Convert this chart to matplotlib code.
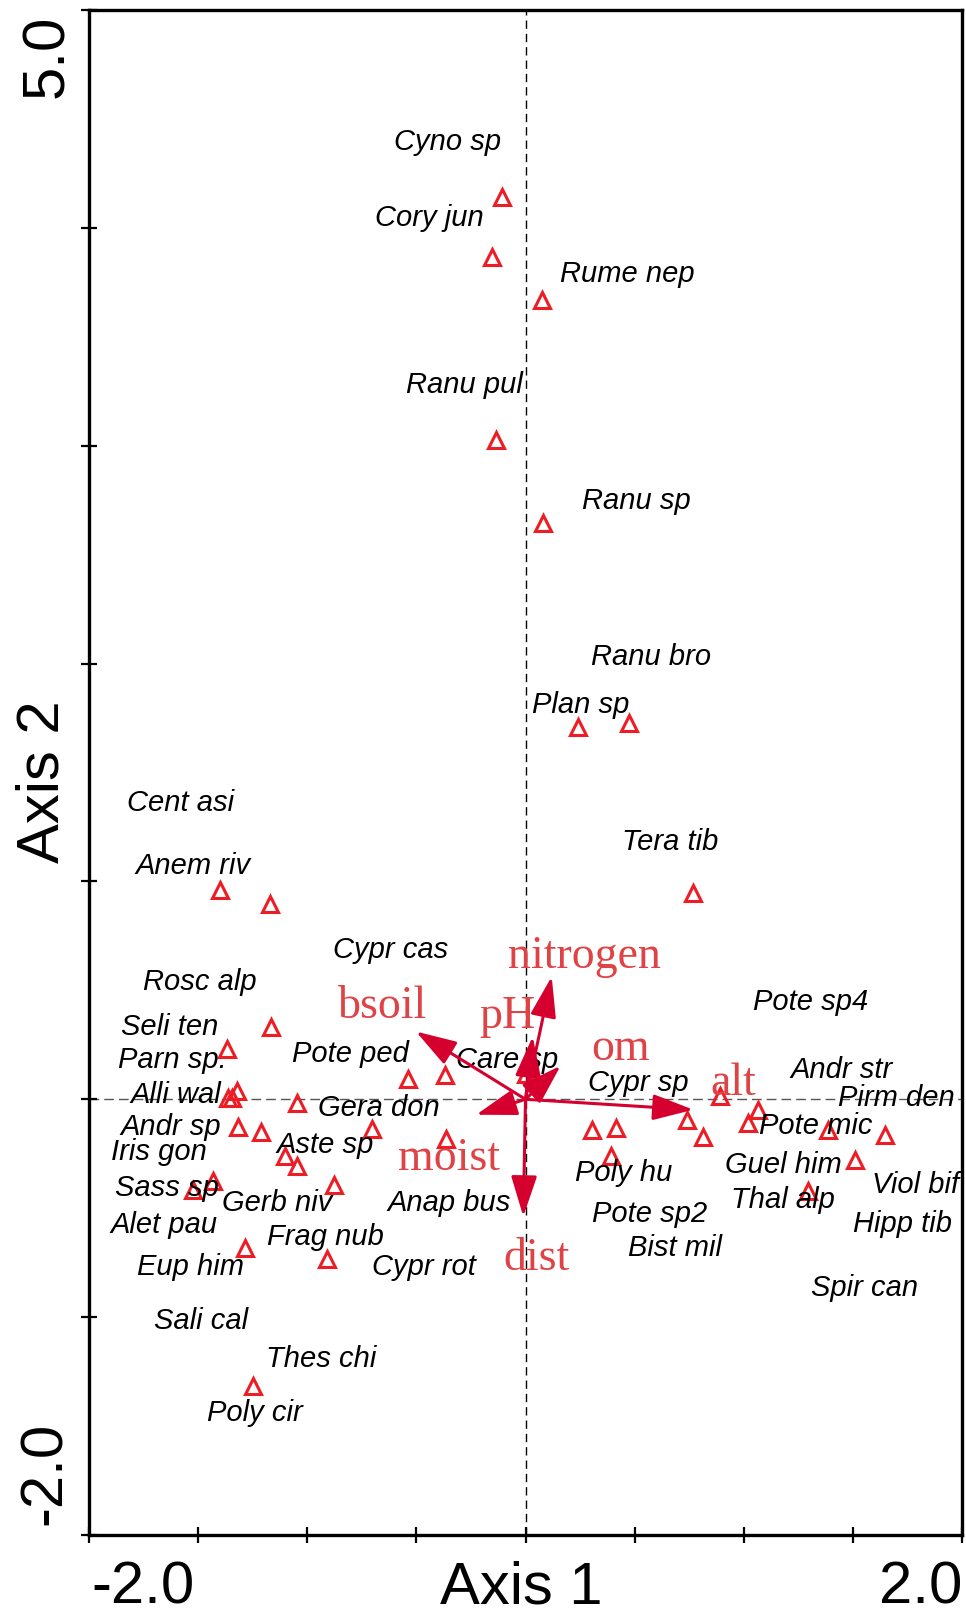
import numpy as np
import matplotlib
matplotlib.use('Agg')
import matplotlib.pyplot as plt

# Skor spesies (segitiga)
sp_x = [-0.106, -0.153, 0.074, -0.134, 0.079, 0.242, 0.476, 0.766,
        -1.400, -1.171, -1.168, -1.369, -1.323, -1.346, -1.362, -1.046,
        -0.537, -0.369, -1.319, -1.212, -0.705, -0.366, -1.102, -1.048,
        -1.430, -1.522, -0.876, -1.285, -0.911, -1.247,
        0.002, 0.044,
        0.891, 0.303, 0.413, 0.392, 0.741, 0.815, 1.064, 1.021,
        1.387, 1.647, 1.510, 1.296]
sp_y = [4.143, 3.868, 3.669, 3.027, 2.644, 1.711, 1.726, 0.946,
        0.961, 0.897, 0.334, 0.233, 0.036, 0.005, 0.004, -0.017,
        0.093, 0.112, -0.125, -0.151, -0.135, -0.181, -0.259, -0.308,
        -0.374, -0.415, -0.392, -0.683, -0.732, -1.318,
        0.115, 0.085,
        0.013, -0.140, -0.132, -0.259, -0.097, -0.171, -0.051, -0.109,
        -0.140, -0.166, -0.278, -0.423]

# Nama spesies dan posisi labelnya
sp_names = ['Cyno sp', 'Cory jun', 'Rume nep', 'Ranu pul', 'Ranu sp', 'Ranu bro',
            'Plan sp', 'Tera tib', 'Cent asi', 'Anem riv', 'Cypr cas', 'Rosc alp',
            'Seli ten', 'Parn sp.', 'Pote ped', 'Alli wal', 'Gera don', 'Andr sp',
            'Iris gon', 'Aste sp', 'Sass sp', 'Gerb niv', 'Anap bus', 'Alet pau',
            'Frag nub', 'Eup him', 'Cypr rot', 'Sali cal', 'Thes chi', 'Poly cir',
            'Pote sp4', 'Andr str', 'Cypr sp', 'Pirm den', 'Pote mic', 'Guel him',
            'Poly hu', 'Viol bif', 'Thal alp', 'Pote sp2', 'Hipp tib', 'Bist mil',
            'Spir can', 'Care sp']
lab_x = [-0.601, -0.690, 0.158, -0.548, 0.257, 0.300,
         0.028, 0.441, -1.825, -1.789, -0.881, -1.751,
         -1.853, -1.866, -1.071, -1.812, -0.949, -1.858,
         -1.901, -1.140, -1.881, -1.392, -0.631, -1.904,
         -1.186, -1.779, -0.705, -1.702, -1.190, -1.458,
         1.041, 1.215, 0.288, 1.433, 1.071, 0.914,
         0.227, 1.586, 0.942, 0.303, 1.502, 0.471,
         1.307, -0.318]
lab_y = [4.357, 4.009, 3.753, 3.244, 2.709, 1.994,
         1.772, 1.142, 1.321, 1.035, 0.648, 0.503,
         0.296, 0.143, 0.169, -0.017, -0.079, -0.163,
         -0.278, -0.247, -0.443, -0.515, -0.515, -0.614,
         -0.668, -0.805, -0.805, -1.055, -1.231, -1.479,
         0.411, 0.097, 0.039, -0.033, -0.158, -0.339,
         -0.377, -0.430, -0.499, -0.561, -0.607, -0.721,
         -0.905, 0.143]

# Vektor variabel lingkungan
env_names = ['nitrogen', 'pH', 'bsoil', 'om', 'moist', 'dist', 'alt']
env_x = [0.120, 0.033, -0.502, 0.161, -0.226, -0.010, 0.769]
env_y = [0.563, 0.288, 0.311, 0.154, -0.071, -0.538, -0.048]
env_lab_x = [-0.080, -0.213, -0.858, 0.303, -0.583, -0.102, 0.849]
env_lab_y = [0.602, 0.327, 0.373, 0.181, -0.324, -0.782, 0.021]

x_ticks = np.arange(-2.0, 2.01, 0.5)
y_ticks = np.arange(-2, 6, 1)

fig = plt.figure(figsize=(9.66, 16.16), dpi=100)
ax = fig.add_axes([89 / 966, 81 / 1616, 873 / 966, 1525 / 1616])
ax.set_xlim(-2, 2)
ax.set_ylim(-2, 5)

# garis putus-putus di sumbu nol
ax.axvline(0, color='black', lw=1, ls=(0, (6, 3.6)), zorder=1)
ax.axhline(0, color='#555555', lw=1, ls=(0, (7, 3.6)), zorder=1)

# segitiga spesies
ax.plot(sp_x, sp_y, linestyle='none', marker='^', markersize=11,
        markerfacecolor='none', markeredgecolor='#ee1c25', markeredgewidth=2.2, zorder=3)

# label spesies
for name, x, y in zip(sp_names, lab_x, lab_y):
    ax.text(x, y, name, fontsize=21, style='italic', family='Liberation Sans',
            ha='left', va='baseline', color='black', zorder=4, clip_on=True)

# panah lingkungan
for x, y in zip(env_x, env_y):
    ax.annotate('', xy=(x, y), xytext=(0, 0),
                arrowprops=dict(arrowstyle='-|>,head_length=2.5,head_width=0.8',
                                mutation_scale=10, lw=2.2, color='#d5002e',
                                shrinkA=0, shrinkB=0), zorder=5)

for name, x, y in zip(env_names, env_lab_x, env_lab_y):
    ax.text(x, y, name, fontsize=33, family='Liberation Serif', color='#e04346',
            ha='left', va='baseline', zorder=6)

# sumbu dan tick
for s in ax.spines.values():
    s.set_linewidth(2.4)
ax.set_xticks(x_ticks)
ax.set_yticks(y_ticks)
ax.set_xticklabels([])
ax.set_yticklabels([])
ax.tick_params(direction='inout', length=12, width=1.6, top=False, right=False)

lab_font = dict(fontsize=43, family='Liberation Sans', color='black')
ax.annotate('-2.0', xy=(-2, 0), xycoords=('data', 'axes fraction'), xytext=(2, -49),
            textcoords='offset points', ha='left', va='baseline', **lab_font)
ax.annotate('2.0', xy=(2, 0), xycoords=('data', 'axes fraction'), xytext=(0, -49),
            textcoords='offset points', ha='right', va='baseline', **lab_font)
ax.annotate('Axis 1', xy=(0.495, 0), xycoords='axes fraction', xytext=(0, -49),
            textcoords='offset points', ha='center', va='baseline', **lab_font)
ax.annotate('5.0', xy=(0, 5), xycoords=('axes fraction', 'data'), xytext=(-10, -3.6),
            textcoords='offset points', ha='right', va='top', rotation=90, **lab_font)
ax.annotate('-2.0', xy=(0, -2), xycoords=('axes fraction', 'data'), xytext=(-11.5, 7.2),
            textcoords='offset points', ha='right', va='bottom', rotation=90, **lab_font)
ax.annotate('Axis 2', xy=(0, 0.494), xycoords='axes fraction', xytext=(-13, 0),
            textcoords='offset points', ha='right', va='center', rotation=90, **lab_font)

fig.savefig('out.png', dpi=100)
